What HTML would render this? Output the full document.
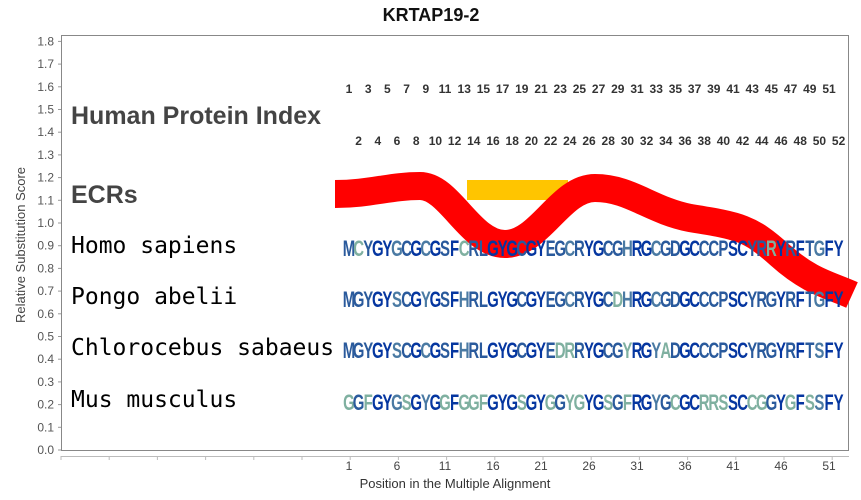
<!DOCTYPE html>
<html><head><meta charset="utf-8"><style>body{margin:0;background:#fff}svg{display:block}</style></head>
<body>
<svg id="s" width="861" height="500" xmlns="http://www.w3.org/2000/svg" font-family="Liberation Sans, sans-serif">
<rect width="861" height="500" fill="#fff"/>
<text x="431" y="21" text-anchor="middle" font-size="18" font-weight="bold" fill="#111">KRTAP19-2</text>
<rect x="61.5" y="35.5" width="787" height="415" fill="none" stroke="#888" stroke-width="1"/>
<g id="yt" font-size="12" fill="#555" text-anchor="end"></g>
<text transform="translate(25,245) rotate(-90)" text-anchor="middle" font-size="13" fill="#444">Relative Substitution Score</text>
<line x1="61" y1="456.5" x2="849" y2="456.5" stroke="#bbb"/>
<g id="xt" font-size="12" fill="#444" text-anchor="middle"></g>
<text x="455" y="488" text-anchor="middle" font-size="13" fill="#333">Position in the Multiple Alignment</text>
<text x="71" y="124" font-size="25" font-weight="bold" fill="#444">Human Protein Index</text>
<text x="71" y="203" font-size="25" font-weight="bold" fill="#444">ECRs</text>
<g id="idx" font-size="12" font-weight="bold" fill="#333" text-anchor="middle"></g>
<rect x="467" y="180" width="101" height="20" fill="#ffc500"/>
<path d="M335,194 C370,194 390,186 420,186 C450,186 470,244 505,244 C540,244 560,188 595,188 C630,188 650,210 690,218 C740,226 750,228 780,255 C810,282 830,285 852,295" fill="none" stroke="#ff0000" stroke-width="28"/>
<g font-family="DejaVu Sans Mono, monospace" font-size="23" fill="#000">
<text x="71" y="253">Homo sapiens</text>
<text x="71" y="304">Pongo abelii</text>
<text x="71" y="355">Chlorocebus sabaeus</text>
<text x="71" y="407">Mus musculus</text>
</g>
<g id="seq" font-size="22" font-weight="bold" text-anchor="middle"></g>
</svg>
<script>
var NS="http://www.w3.org/2000/svg";
function t(g,x,y,s,a){var e=document.createElementNS(NS,"text");e.setAttribute("x",x);e.setAttribute("y",y);e.textContent=s;if(a)for(var k in a)e.setAttribute(k,a[k]);document.getElementById(g).appendChild(e);return e;}
for(var i=0;i<=18;i++){var y=450-i*22.7;t("yt",54,y+4,(i/10).toFixed(1));var l=document.createElementNS(NS,"line");l.setAttribute("x1",58);l.setAttribute("x2",61);l.setAttribute("y1",y);l.setAttribute("y2",y);l.setAttribute("stroke","#999");document.getElementById("yt").appendChild(l);}
for(var x=61;x<849;x+=48.2){var l=document.createElementNS(NS,"line");l.setAttribute("x1",x);l.setAttribute("x2",x);l.setAttribute("y1",456);l.setAttribute("y2",460);l.setAttribute("stroke","#bbb");document.getElementById("xt").appendChild(l);}
function px(p){return 349+(p-1)*9.6;}
for(var p=1;p<=51;p+=5)t("xt",px(p),470,p);
for(var p=1;p<=52;p++)t("idx",px(p),p%2?93:145,p);
var S=["MCYGYGCGCGSFCRLGYGCGYEGCRYGCGHRGCGDGCCCPSCYRRYRFTGFY","MGYGYSCGYGSFHRLGYGCGYEGCRYGCDHRGCGDGCCCPSCYRGYRFTGFY","MGYGYSCGCGSFHRLGYGCGYEDRRYGCGYRGYADGCCCPSCYRGYRFTSFY","GGFGYGSGYGGFGGFGYGSGYGGYGYGSGFRGYGCGCRRSSCCGGYGFSSFY"];
var Y=[256,307,358,410],C={4:"#0536a0",3:"#2a5a9c",2:"#4a7aa3",1:"#7fb0a0"};
for(var r=0;r<4;r++)for(var i=0;i<52;i++){var ch=S[r][i],n=0;for(var q=0;q<4;q++)if(S[q][i]==ch)n++;var e=t("seq",0,0,ch,{fill:C[n]});e.setAttribute("transform","translate("+px(i+1)+","+Y[r]+") scale(0.68,1)");}
</script>
</body></html>
